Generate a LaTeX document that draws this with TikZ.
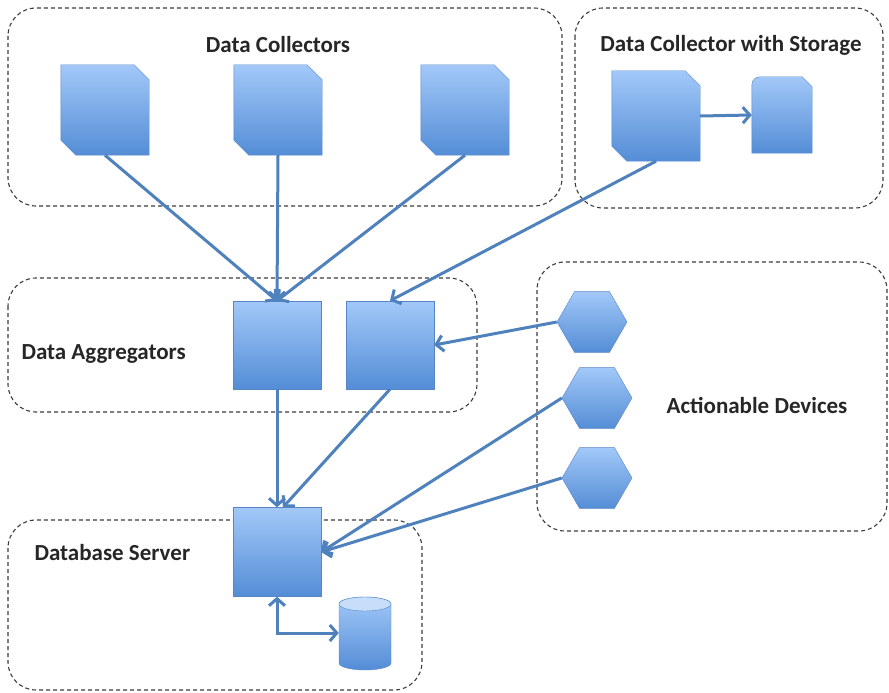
\documentclass[tikz,border=0pt]{standalone}
\usepackage{fontspec}
\setmainfont{Carlito}
\usetikzlibrary{shapes.geometric, arrows.meta, positioning}
\definecolor{cLine}{RGB}{79,129,189}
\definecolor{cTop}{RGB}{162,200,248}
\definecolor{cBot}{RGB}{84,141,214}
\definecolor{cEdge}{RGB}{86,134,200}
\definecolor{cFrame}{RGB}{60,60,60}
\tikzset{
	group/.style    ={draw=cFrame, line width=1.1pt, dash pattern=on 4pt off 3pt, rounded corners=28pt},
	grouplbl/.style ={font=\fontsize{23}{27}\selectfont\bfseries, text=black!85},
	slot/.style     ={rectangle, minimum width=88pt, minimum height=90pt, inner sep=0pt},
	solid3d/.style  ={draw=cEdge, top color=cTop, bottom color=cBot},
	box/.style      ={rectangle, solid3d, minimum width=88pt, minimum height=88pt, inner sep=0pt},
	device/.style   ={regular polygon, regular polygon sides=6, solid3d, minimum size=70pt, inner sep=0pt},
	link/.style     ={-{Straight Barb[length=7pt, width=16pt, line width=3pt]}, cLine, line width=3pt},
	blink/.style    ={{Straight Barb[length=7pt, width=16pt, line width=3pt]}-{Straight Barb[length=7pt, width=16pt, line width=3pt]}, cLine, line width=3pt},
}
\begin{document}
\begin{tikzpicture}[x=1pt, y=-1pt]
	\useasboundingbox (0,0) rectangle (889,693);
	% dashed groups
	\draw[group] (8,8) rectangle (562,206);
	\draw[group] (575,8) rectangle (883,208);
	\draw[group] (8,278) rectangle (477,412);
	\draw[group] (537,262) rectangle (887,531);
	\draw[group] (8,520) rectangle (422,690);
	\node[grouplbl] (lcol) at (278,45) {Data Collectors};
	\node[grouplbl] (lsto) at (731,45) {Data Collector with Storage};
	\node[grouplbl, anchor=west] (lagg) at (18,354) {Data Aggregators};
	\node[grouplbl] (lact) at (757,405) {Actionable Devices};
	\node[grouplbl, anchor=west] (ldb) at (31,553) {Database Server};
	% collectors (cut corners)
	\node[slot] (c1) at (105,110) {};
	\node[slot] (c2) at (278,110) {};
	\node[slot] (c3) at (465,110) {};
	\node[slot] (cs) at (656,116) {};
	\foreach \c in {c1,c2,c3,cs}
		\shade[solid3d] (\c.north west) -- ([xshift=-15pt]\c.north east) -- ([yshift=-15pt]\c.north east)
			-- (\c.south east) -- ([xshift=15pt]\c.south west) -- ([yshift=15pt]\c.south west) -- cycle;
	\node[slot, minimum width=60pt, minimum height=76pt] (st) at (782,115) {};
	\shade[solid3d] (st.south west) [rounded corners=8pt] -- (st.north west) [sharp corners] -- ([xshift=-10pt]st.north east)
		-- ([yshift=-10pt]st.north east) -- (st.south east) -- cycle;
	% aggregators, server, devices
	\node[box] (a1) at (277,345) {};
	\node[box] (a2) at (390,345) {};
	\node[box, minimum height=89pt] (db) at (277,552) {};
	\node[device] (d1) at (592,322) {};
	\node[device] (d2) at (597,398) {};
	\node[device] (d3) at (597,478) {};
	% disk
	\node[slot, minimum width=52pt, minimum height=73pt] (dk) at (365,633) {};
	\shade[solid3d] (339,604) -- (339,663) arc[start angle=180, end angle=360, x radius=26pt, y radius=7pt]
		-- (391,604) arc[start angle=0, end angle=180, x radius=26pt, y radius=7pt] -- cycle;
	\filldraw[draw=cEdge, fill=cTop!60!white] (365,604) ellipse[x radius=26pt, y radius=7pt];
	% connectors
	\foreach \c in {c1,c2,c3} \draw[link] (\c.south) -- (a1.north);
	\draw[link] (cs.east) -- (st.west);
	\draw[link] (cs.south) -- (a2.north);
	\draw[link] (d1.west) -- (a2.east);
	\draw[link] (a1.south) -- (db.north);
	\draw[link] (a2.south) -- ([xshift=6pt]db.north);
	\draw[link] (d2.west) -- (db.east);
	\draw[link] (d3.west) -- (db.east);
	\draw[blink] (db.south) |- (dk.west);
\end{tikzpicture}
\end{document}
